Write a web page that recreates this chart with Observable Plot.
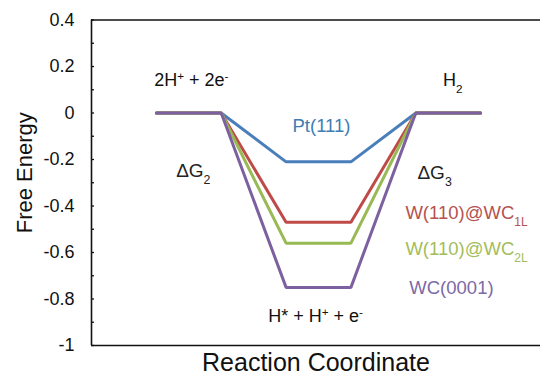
<!DOCTYPE html>
<html>
<head>
<meta charset="utf-8">
<script src="https://cdn.jsdelivr.net/npm/d3@7"></script>
<script src="https://cdn.jsdelivr.net/npm/@observablehq/plot@0.6"></script>
<style>
  html, body { margin: 0; padding: 0; background: #fff; }
  #chart svg { display: block; }
</style>
</head>
<body>
<div id="chart"></div>
<script>
// Reaction steps along the coordinate: initial state, adsorbed H*, final H2
const steps = [1, 2, 3, 4, 5, 6];
// Catalyst surfaces and the free energy of the adsorbed intermediate (eV)
const surfaces = ["Pt(111)", "W(110)@WC_{1L}", "W(110)@WC_{2L}", "WC(0001)"];
const adsorptionEnergy = [-0.21, -0.47, -0.56, -0.75];
const surfaceColors = ["#4a7ebb", "#be4b48", "#98b954", "#7d60a0"];
// Free energy axis ticks
const majorTicks = [0.4, 0.2, 0, -0.2, -0.4, -0.6, -0.8, -1];
const minorTicks = [0.3, 0.1, -0.1, -0.3, -0.5, -0.7, -0.9];
// State and step annotations
const stateLabels = ["2H^{+} + 2e^{-}", "H* + H^{+} + e^{-}", "H_{2}"];
const stepLabels = ["\u0394G_{2}", "\u0394G_{3}"];

// Energy profile per surface: 0 -> ΔG(H*) -> 0
const rows = surfaces.flatMap((s, i) => {
  const g = adsorptionEnergy[i];
  const profile = [0, 0, g, g, 0, 0];
  return steps.map((step, k) => ({surface: s, step, g: profile[k]}));
});

const font = "'Liberation Sans', Arial, 'DejaVu Sans', sans-serif";

const chart = Plot.plot({
  width: 540,
  height: 375,
  marginLeft: 91,
  marginRight: 0,
  marginTop: 19.5,
  marginBottom: 30,
  style: {fontFamily: font, background: "#fff", color: "#111"},
  x: {domain: [0, 7], range: [91, 545], axis: null},
  y: {domain: [-1, 0.4], range: [345, 19.5], axis: null},
  color: {domain: surfaces, range: surfaceColors},
  marks: [
    // profiles
    Plot.line(rows, {x: "step", y: "g", z: "surface", stroke: "surface", strokeWidth: 3, strokeLinejoin: "miter"}),
    // plot box
    Plot.ruleY([0.4, -1], {stroke: "#111", strokeWidth: 1.6}),
    Plot.ruleX([0], {y1: -1, y2: 0.4, stroke: "#111", strokeWidth: 1.6}),
    // inward tick marks
    Plot.ruleY(majorTicks.concat(minorTicks), {insetRight: 446, stroke: "#111", strokeWidth: 1.3}),
    Plot.axisY(majorTicks, {
      label: null, tickSize: 0, tickPadding: 17, fontSize: 18, fill: "#111",
      tickFormat: d => String(+d.toFixed(1))
    }),
    // axis titles
    Plot.text(["Free Energy"], {frameAnchor: "left", textAnchor: "middle", lineAnchor: "middle", dx: -67, dy: -10, rotate: -90, fontSize: 22, fill: "#111"}),
    Plot.text(["Reaction Coordinate"], {frameAnchor: "bottom", textAnchor: "middle", lineAnchor: "middle", dy: 17, fontSize: 25, fill: "#111"}),
    // state annotations
    Plot.text([stateLabels[0]], {x: 1.54, y: 0.139, fontSize: 18, fill: "#111"}),
    Plot.text([stateLabels[1]], {x: 3.455, y: -0.873, fontSize: 18, fill: "#111"}),
    Plot.text([stateLabels[2]], {x: 5.57, y: 0.139, fontSize: 18, fill: "#111"}),
    Plot.text([stepLabels[0]], {x: 1.57, y: -0.248, fontSize: 19, fill: "#222"}),
    Plot.text([stepLabels[1]], {x: 5.29, y: -0.257, fontSize: 19, fill: "#222"}),
    // surface labels
    Plot.text([surfaces[0]], {x: 3.546, y: -0.055, fontSize: 18.5, fill: "#3d7db3"}),
    Plot.text([surfaces[1]], {x: 4.84, y: -0.429, textAnchor: "start", fontSize: 18.5, fill: "#b5524f"}),
    Plot.text([surfaces[2]], {x: 4.84, y: -0.584, textAnchor: "start", fontSize: 18.5, fill: "#a3bd5a"}),
    Plot.text([surfaces[3]], {x: 4.90, y: -0.752, textAnchor: "start", fontSize: 18.5, fill: "#7c6aa6"})
  ]
});

// Render _{...} and ^{...} as subscript / superscript spans
function richText(svg) {
  const ns = "http://www.w3.org/2000/svg";
  svg.querySelectorAll("text").forEach(t => {
    const s = t.textContent;
    if (!/[_^]\{/.test(s)) return;
    t.textContent = "";
    const add = (str, kind) => {
      if (!str) return;
      const ts = document.createElementNS(ns, "tspan");
      ts.textContent = str;
      if (kind) {
        ts.setAttribute("font-size", "65%");
        ts.setAttribute("baseline-shift", kind === "^" ? "super" : "sub");
      }
      t.appendChild(ts);
    };
    const re = /([_^])\{([^}]*)\}/g;
    let last = 0, m;
    while ((m = re.exec(s))) {
      add(s.slice(last, m.index));
      add(m[2], m[1]);
      last = re.lastIndex;
    }
    add(s.slice(last));
  });
}
richText(chart);
document.getElementById("chart").appendChild(chart);
</script>
</body>
</html>
